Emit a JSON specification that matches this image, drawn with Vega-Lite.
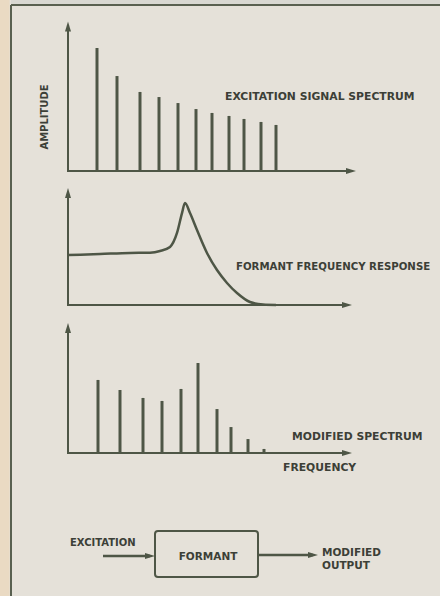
{
  "$schema": "https://vega.github.io/schema/vega-lite/v6.json",
  "padding": 0,
  "spacing": 0,
  "bounds": "flush",
  "background": "#e5e1d9",
  "config": {
    "view": {"stroke": null},
    "text": {"font": "DejaVu Sans", "fontWeight": "bold", "fontSize": 10.8, "fill": "#3c3f37", "baseline": "middle"},
    "rule": {"color": "#4e5646"},
    "line": {"color": "#4e5646"}
  },
  "datasets": {
    "excitation": [
      {"harmonic": 1, "f": 7.25, "a": 82},
      {"harmonic": 2, "f": 12.25, "a": 63.3},
      {"harmonic": 3, "f": 18, "a": 52.7},
      {"harmonic": 4, "f": 22.75, "a": 49.3},
      {"harmonic": 5, "f": 27.5, "a": 45.3},
      {"harmonic": 6, "f": 32, "a": 41.3},
      {"harmonic": 7, "f": 36, "a": 38.7},
      {"harmonic": 8, "f": 40.25, "a": 36.7},
      {"harmonic": 9, "f": 44, "a": 34.7},
      {"harmonic": 10, "f": 48.25, "a": 32.7},
      {"harmonic": 11, "f": 52, "a": 30.7}
    ],
    "formant": [
      {"f": 0, "r": 33.3},
      {"f": 8, "r": 34},
      {"f": 15.5, "r": 34.7},
      {"f": 20.5, "r": 34.9},
      {"f": 23, "r": 36},
      {"f": 25.5, "r": 38.7},
      {"f": 27.25, "r": 48},
      {"f": 28.5, "r": 61.3},
      {"f": 29.25, "r": 68},
      {"f": 30.5, "r": 61.3},
      {"f": 32.25, "r": 50},
      {"f": 34.75, "r": 34.7},
      {"f": 37.25, "r": 23.3},
      {"f": 39.75, "r": 14.7},
      {"f": 42.25, "r": 8},
      {"f": 45.5, "r": 2},
      {"f": 48.75, "r": 0.3},
      {"f": 52, "r": 0}
    ],
    "modified": [
      {"harmonic": 1, "f": 7.5, "a": 48.7},
      {"harmonic": 2, "f": 13, "a": 42},
      {"harmonic": 3, "f": 18.75, "a": 36.7},
      {"harmonic": 4, "f": 23.5, "a": 34.7},
      {"harmonic": 5, "f": 28.25, "a": 42.7},
      {"harmonic": 6, "f": 32.5, "a": 60},
      {"harmonic": 7, "f": 37.25, "a": 29.3},
      {"harmonic": 8, "f": 40.75, "a": 17.3},
      {"harmonic": 9, "f": 45, "a": 9.3},
      {"harmonic": 10, "f": 49, "a": 2.7}
    ]
  },
  "vconcat": [
    {
      "width": 440,
      "height": 180,
      "data": {"values": [{}]},
      "layer": [
        {"mark": {"type": "rect", "color": "#eadac3"},
         "encoding": {
           "x": {"datum": -17, "type": "quantitative", "scale": {"domain": [-17, 93], "nice": false, "zero": false}, "axis": null},
           "x2": {"datum": -14.6},
           "y": {"datum": -6.5, "type": "quantitative", "scale": {"domain": [-6, 114], "nice": false, "zero": false}, "axis": null},
           "y2": {"datum": 114}}},
        {"mark": {"type": "rect", "color": "#d9d8d2"},
         "encoding": {
           "x": {"datum": -14.25, "type": "quantitative", "scale": {"domain": [-17, 93], "nice": false, "zero": false}, "axis": null},
           "x2": {"datum": 93},
           "y": {"datum": 110.67, "type": "quantitative", "scale": {"domain": [-6, 114], "nice": false, "zero": false}, "axis": null},
           "y2": {"datum": 114}}},
        {"mark": {"type": "rule", "color": "#596050", "strokeWidth": 2},
         "encoding": {
           "x": {"datum": -14.25, "type": "quantitative", "scale": {"domain": [-17, 93], "nice": false, "zero": false}, "axis": null},
           "y": {"datum": -6.7, "type": "quantitative", "scale": {"domain": [-6, 114], "nice": false, "zero": false}, "axis": null},
           "y2": {"datum": 110.67}}},
        {"mark": {"type": "rule", "color": "#596050", "strokeWidth": 2},
         "encoding": {
           "x": {"datum": -14.25, "type": "quantitative", "scale": {"domain": [-17, 93], "nice": false, "zero": false}, "axis": null},
           "x2": {"datum": 93},
           "y": {"datum": 110.67, "type": "quantitative", "scale": {"domain": [-6, 114], "nice": false, "zero": false}, "axis": null}}},
        {"mark": {"type": "rule", "strokeWidth": 2},
         "encoding": {
           "x": {"datum": 0, "type": "quantitative", "scale": {"domain": [-17, 93], "nice": false, "zero": false}, "axis": null},
           "y": {"datum": -0.6, "type": "quantitative", "scale": {"domain": [-6, 114], "nice": false, "zero": false}, "axis": null},
           "y2": {"datum": 96}}},
        {"mark": {"type": "rule", "strokeWidth": 2},
         "encoding": {
           "x": {"datum": -0.25, "type": "quantitative", "scale": {"domain": [-17, 93], "nice": false, "zero": false}, "axis": null},
           "x2": {"datum": 70.5},
           "y": {"datum": 0, "type": "quantitative", "scale": {"domain": [-6, 114], "nice": false, "zero": false}, "axis": null}}},
        {"mark": {"type": "point", "shape": "M0,-1L0.6,1L-0.6,1Z", "filled": true, "size": 100, "color": "#4e5646", "opacity": 1},
         "encoding": {
           "x": {"datum": 0, "type": "quantitative", "scale": {"domain": [-17, 93], "nice": false, "zero": false}, "axis": null},
           "y": {"datum": 96.33, "type": "quantitative", "scale": {"domain": [-6, 114], "nice": false, "zero": false}, "axis": null}}},
        {"mark": {"type": "point", "shape": "M1,0L-1,0.6L-1,-0.6Z", "filled": true, "size": 100, "color": "#4e5646", "opacity": 1},
         "encoding": {
           "x": {"datum": 70.75, "type": "quantitative", "scale": {"domain": [-17, 93], "nice": false, "zero": false}, "axis": null},
           "y": {"datum": 0, "type": "quantitative", "scale": {"domain": [-6, 114], "nice": false, "zero": false}, "axis": null}}},
        {"data": {"name": "excitation"},
         "mark": {"type": "rule", "strokeWidth": 3},
         "encoding": {
           "x": {"field": "f", "type": "quantitative", "scale": {"domain": [-17, 93], "nice": false, "zero": false}, "axis": null},
           "y": {"field": "a", "type": "quantitative", "scale": {"domain": [-6, 114], "nice": false, "zero": false}, "axis": null},
           "y2": {"datum": 0}}},
        {"mark": {"type": "text", "angle": 270, "align": "center", "fontSize": 10},
         "encoding": {
           "x": {"datum": -5.75, "type": "quantitative", "scale": {"domain": [-17, 93], "nice": false, "zero": false}, "axis": null},
           "y": {"datum": 36, "type": "quantitative", "scale": {"domain": [-6, 114], "nice": false, "zero": false}, "axis": null},
           "text": {"value": "AMPLITUDE"}}},
        {"mark": {"type": "text", "align": "left"},
         "encoding": {
           "x": {"datum": 39.25, "type": "quantitative", "scale": {"domain": [-17, 93], "nice": false, "zero": false}, "axis": null},
           "y": {"datum": 49.3, "type": "quantitative", "scale": {"domain": [-6, 114], "nice": false, "zero": false}, "axis": null},
           "text": {"value": "EXCITATION SIGNAL SPECTRUM"}}}
      ]
    },
    {
      "width": 440,
      "height": 134,
      "data": {"values": [{}]},
      "layer": [
        {"mark": {"type": "rect", "color": "#eadac3"},
         "encoding": {
           "x": {"datum": -17, "type": "quantitative", "scale": {"domain": [-17, 93], "nice": false, "zero": false}, "axis": null},
           "x2": {"datum": -14.6},
           "y": {"datum": -6.5, "type": "quantitative", "scale": {"domain": [-6, 83.33], "nice": false, "zero": false}, "axis": null},
           "y2": {"datum": 83.33}}},
        {"mark": {"type": "rule", "color": "#596050", "strokeWidth": 2},
         "encoding": {
           "x": {"datum": -14.25, "type": "quantitative", "scale": {"domain": [-17, 93], "nice": false, "zero": false}, "axis": null},
           "y": {"datum": -6.7, "type": "quantitative", "scale": {"domain": [-6, 83.33], "nice": false, "zero": false}, "axis": null},
           "y2": {"datum": 83.33}}},
        {"mark": {"type": "rule", "strokeWidth": 2},
         "encoding": {
           "x": {"datum": 0, "type": "quantitative", "scale": {"domain": [-17, 93], "nice": false, "zero": false}, "axis": null},
           "y": {"datum": -0.6, "type": "quantitative", "scale": {"domain": [-6, 83.33], "nice": false, "zero": false}, "axis": null},
           "y2": {"datum": 75}}},
        {"mark": {"type": "rule", "strokeWidth": 2},
         "encoding": {
           "x": {"datum": -0.25, "type": "quantitative", "scale": {"domain": [-17, 93], "nice": false, "zero": false}, "axis": null},
           "x2": {"datum": 69.5},
           "y": {"datum": 0, "type": "quantitative", "scale": {"domain": [-6, 83.33], "nice": false, "zero": false}, "axis": null}}},
        {"mark": {"type": "point", "shape": "M0,-1L0.6,1L-0.6,1Z", "filled": true, "size": 100, "color": "#4e5646", "opacity": 1},
         "encoding": {
           "x": {"datum": 0, "type": "quantitative", "scale": {"domain": [-17, 93], "nice": false, "zero": false}, "axis": null},
           "y": {"datum": 74.67, "type": "quantitative", "scale": {"domain": [-6, 83.33], "nice": false, "zero": false}, "axis": null}}},
        {"mark": {"type": "point", "shape": "M1,0L-1,0.6L-1,-0.6Z", "filled": true, "size": 100, "color": "#4e5646", "opacity": 1},
         "encoding": {
           "x": {"datum": 69.75, "type": "quantitative", "scale": {"domain": [-17, 93], "nice": false, "zero": false}, "axis": null},
           "y": {"datum": 0, "type": "quantitative", "scale": {"domain": [-6, 83.33], "nice": false, "zero": false}, "axis": null}}},
        {"data": {"name": "formant"},
         "mark": {"type": "line", "interpolate": "monotone", "strokeWidth": 2.5},
         "encoding": {
           "x": {"field": "f", "type": "quantitative", "scale": {"domain": [-17, 93], "nice": false, "zero": false}, "axis": null},
           "y": {"field": "r", "type": "quantitative", "scale": {"domain": [-6, 83.33], "nice": false, "zero": false}, "axis": null}}},
        {"mark": {"type": "text", "align": "left", "fontSize": 10.2},
         "encoding": {
           "x": {"datum": 42, "type": "quantitative", "scale": {"domain": [-17, 93], "nice": false, "zero": false}, "axis": null},
           "y": {"datum": 25.3, "type": "quantitative", "scale": {"domain": [-6, 83.33], "nice": false, "zero": false}, "axis": null},
           "text": {"value": "FORMANT FREQUENCY RESPONSE"}}}
      ]
    },
    {
      "width": 440,
      "height": 166,
      "data": {"values": [{}]},
      "layer": [
        {"mark": {"type": "rect", "color": "#eadac3"},
         "encoding": {
           "x": {"datum": -17, "type": "quantitative", "scale": {"domain": [-17, 93], "nice": false, "zero": false}, "axis": null},
           "x2": {"datum": -14.6},
           "y": {"datum": -18.5, "type": "quantitative", "scale": {"domain": [-18, 92.67], "nice": false, "zero": false}, "axis": null},
           "y2": {"datum": 92.67}}},
        {"mark": {"type": "rule", "color": "#596050", "strokeWidth": 2},
         "encoding": {
           "x": {"datum": -14.25, "type": "quantitative", "scale": {"domain": [-17, 93], "nice": false, "zero": false}, "axis": null},
           "y": {"datum": -18.7, "type": "quantitative", "scale": {"domain": [-18, 92.67], "nice": false, "zero": false}, "axis": null},
           "y2": {"datum": 92.67}}},
        {"mark": {"type": "rule", "strokeWidth": 2},
         "encoding": {
           "x": {"datum": 0, "type": "quantitative", "scale": {"domain": [-17, 93], "nice": false, "zero": false}, "axis": null},
           "y": {"datum": -0.6, "type": "quantitative", "scale": {"domain": [-18, 92.67], "nice": false, "zero": false}, "axis": null},
           "y2": {"datum": 84}}},
        {"mark": {"type": "rule", "strokeWidth": 2},
         "encoding": {
           "x": {"datum": -0.25, "type": "quantitative", "scale": {"domain": [-17, 93], "nice": false, "zero": false}, "axis": null},
           "x2": {"datum": 69.5},
           "y": {"datum": 0, "type": "quantitative", "scale": {"domain": [-18, 92.67], "nice": false, "zero": false}, "axis": null}}},
        {"mark": {"type": "point", "shape": "M0,-1L0.6,1L-0.6,1Z", "filled": true, "size": 100, "color": "#4e5646", "opacity": 1},
         "encoding": {
           "x": {"datum": 0, "type": "quantitative", "scale": {"domain": [-17, 93], "nice": false, "zero": false}, "axis": null},
           "y": {"datum": 83.33, "type": "quantitative", "scale": {"domain": [-18, 92.67], "nice": false, "zero": false}, "axis": null}}},
        {"mark": {"type": "point", "shape": "M1,0L-1,0.6L-1,-0.6Z", "filled": true, "size": 100, "color": "#4e5646", "opacity": 1},
         "encoding": {
           "x": {"datum": 69.75, "type": "quantitative", "scale": {"domain": [-17, 93], "nice": false, "zero": false}, "axis": null},
           "y": {"datum": 0, "type": "quantitative", "scale": {"domain": [-18, 92.67], "nice": false, "zero": false}, "axis": null}}},
        {"data": {"name": "modified"},
         "mark": {"type": "rule", "strokeWidth": 3},
         "encoding": {
           "x": {"field": "f", "type": "quantitative", "scale": {"domain": [-17, 93], "nice": false, "zero": false}, "axis": null},
           "y": {"field": "a", "type": "quantitative", "scale": {"domain": [-18, 92.67], "nice": false, "zero": false}, "axis": null},
           "y2": {"datum": 0}}},
        {"mark": {"type": "text", "align": "left"},
         "encoding": {
           "x": {"datum": 56, "type": "quantitative", "scale": {"domain": [-17, 93], "nice": false, "zero": false}, "axis": null},
           "y": {"datum": 10.7, "type": "quantitative", "scale": {"domain": [-18, 92.67], "nice": false, "zero": false}, "axis": null},
           "text": {"value": "MODIFIED SPECTRUM"}}},
        {"mark": {"type": "text", "align": "left"},
         "encoding": {
           "x": {"datum": 53.75, "type": "quantitative", "scale": {"domain": [-17, 93], "nice": false, "zero": false}, "axis": null},
           "y": {"datum": -10, "type": "quantitative", "scale": {"domain": [-18, 92.67], "nice": false, "zero": false}, "axis": null},
           "text": {"value": "FREQUENCY"}}}
      ]
    },
    {
      "width": 440,
      "height": 116,
      "data": {"values": [{}]},
      "layer": [
        {"mark": {"type": "rect", "color": "#eadac3"},
         "encoding": {
           "x": {"datum": -17, "type": "quantitative", "scale": {"domain": [-17, 93], "nice": false, "zero": false}, "axis": null},
           "x2": {"datum": -14.6},
           "y": {"datum": 0, "type": "quantitative", "scale": {"domain": [0, 77.33], "nice": false, "zero": false}, "axis": null},
           "y2": {"datum": 77.33}}},
        {"mark": {"type": "rule", "color": "#596050", "strokeWidth": 2},
         "encoding": {
           "x": {"datum": -14.25, "type": "quantitative", "scale": {"domain": [-17, 93], "nice": false, "zero": false}, "axis": null},
           "y": {"datum": 0, "type": "quantitative", "scale": {"domain": [0, 77.33], "nice": false, "zero": false}, "axis": null},
           "y2": {"datum": 77.33}}},
        {"mark": {"type": "rect", "fill": null, "fillOpacity": 0, "stroke": "#4e5646", "strokeWidth": 2, "cornerRadius": 3},
         "encoding": {
           "x": {"datum": 21.75, "type": "quantitative", "scale": {"domain": [-17, 93], "nice": false, "zero": false}, "axis": null},
           "x2": {"datum": 47.5},
           "y": {"datum": 12.7, "type": "quantitative", "scale": {"domain": [0, 77.33], "nice": false, "zero": false}, "axis": null},
           "y2": {"datum": 43.3}}},
        {"mark": {"type": "rule", "strokeWidth": 2.5},
         "encoding": {
           "x": {"datum": 8.75, "type": "quantitative", "scale": {"domain": [-17, 93], "nice": false, "zero": false}, "axis": null},
           "x2": {"datum": 20.5},
           "y": {"datum": 26.7, "type": "quantitative", "scale": {"domain": [0, 77.33], "nice": false, "zero": false}, "axis": null}}},
        {"mark": {"type": "point", "shape": "M1,0L-1,0.6L-1,-0.6Z", "filled": true, "size": 100, "color": "#4e5646", "opacity": 1},
         "encoding": {
           "x": {"datum": 20.5, "type": "quantitative", "scale": {"domain": [-17, 93], "nice": false, "zero": false}, "axis": null},
           "y": {"datum": 26.7, "type": "quantitative", "scale": {"domain": [0, 77.33], "nice": false, "zero": false}, "axis": null}}},
        {"mark": {"type": "rule", "strokeWidth": 2.5},
         "encoding": {
           "x": {"datum": 47.5, "type": "quantitative", "scale": {"domain": [-17, 93], "nice": false, "zero": false}, "axis": null},
           "x2": {"datum": 61.25},
           "y": {"datum": 27.3, "type": "quantitative", "scale": {"domain": [0, 77.33], "nice": false, "zero": false}, "axis": null}}},
        {"mark": {"type": "point", "shape": "M1,0L-1,0.6L-1,-0.6Z", "filled": true, "size": 100, "color": "#4e5646", "opacity": 1},
         "encoding": {
           "x": {"datum": 61.25, "type": "quantitative", "scale": {"domain": [-17, 93], "nice": false, "zero": false}, "axis": null},
           "y": {"datum": 27.3, "type": "quantitative", "scale": {"domain": [0, 77.33], "nice": false, "zero": false}, "axis": null}}},
        {"mark": {"type": "text", "align": "left", "fontSize": 10},
         "encoding": {
           "x": {"datum": 0.5, "type": "quantitative", "scale": {"domain": [-17, 93], "nice": false, "zero": false}, "axis": null},
           "y": {"datum": 35.3, "type": "quantitative", "scale": {"domain": [0, 77.33], "nice": false, "zero": false}, "axis": null},
           "text": {"value": "EXCITATION"}}},
        {"mark": {"type": "text", "align": "center", "fontSize": 10.5},
         "encoding": {
           "x": {"datum": 35, "type": "quantitative", "scale": {"domain": [-17, 93], "nice": false, "zero": false}, "axis": null},
           "y": {"datum": 26, "type": "quantitative", "scale": {"domain": [0, 77.33], "nice": false, "zero": false}, "axis": null},
           "text": {"value": "FORMANT"}}},
        {"mark": {"type": "text", "align": "left", "fontSize": 10.5},
         "encoding": {
           "x": {"datum": 63.5, "type": "quantitative", "scale": {"domain": [-17, 93], "nice": false, "zero": false}, "axis": null},
           "y": {"datum": 28.7, "type": "quantitative", "scale": {"domain": [0, 77.33], "nice": false, "zero": false}, "axis": null},
           "text": {"value": "MODIFIED"}}},
        {"mark": {"type": "text", "align": "left", "fontSize": 10.5},
         "encoding": {
           "x": {"datum": 63.5, "type": "quantitative", "scale": {"domain": [-17, 93], "nice": false, "zero": false}, "axis": null},
           "y": {"datum": 20, "type": "quantitative", "scale": {"domain": [0, 77.33], "nice": false, "zero": false}, "axis": null},
           "text": {"value": "OUTPUT"}}}
      ]
    }
  ]
}
